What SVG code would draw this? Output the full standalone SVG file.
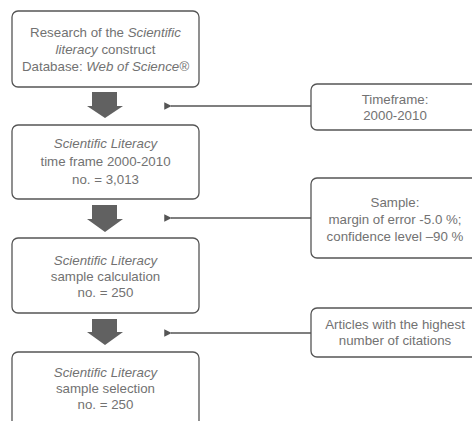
<svg xmlns="http://www.w3.org/2000/svg" width="472" height="421" viewBox="0 0 472 421">
<style>
.box{fill:#fff;stroke:#555;stroke-width:1.3}
.t{font-family:"Liberation Sans",Arial,sans-serif;font-size:13.3px;fill:#727272;text-anchor:middle}
.i{font-style:italic}
.big{fill:#616161}
.con{stroke:#555;stroke-width:1.5;fill:none}
</style>
<defs>
<marker id="ah" viewBox="0 0 10 10" refX="1" refY="5" markerWidth="6" markerHeight="5" orient="auto-start-reverse" markerUnits="strokeWidth">
<path d="M0,5 L10,0 L10,10 Z" fill="#555"/>
</marker>
</defs>
<rect width="472" height="421" fill="#fff"/>
<g id="n1">
<rect class="box" x="12" y="11" width="187" height="76" rx="6"/>
<text class="t" x="105.5" y="37">Research of the <tspan class="i">Scientific</tspan></text>
<text class="t" x="105.5" y="54"><tspan class="i">literacy</tspan> construct</text>
<text class="t" x="105.5" y="71">Database: <tspan class="i">Web of Science®</tspan></text>
</g>
<g id="n2">
<rect class="box" x="12" y="125" width="187" height="74" rx="6"/>
<text class="t i" x="105.5" y="147.5">Scientific Literacy</text>
<text class="t" x="105.5" y="166">time frame 2000-2010</text>
<text class="t" x="105.5" y="184">no. = 3,013</text>
</g>
<g id="n3">
<rect class="box" x="12" y="238" width="187" height="75" rx="6"/>
<text class="t i" x="105.5" y="265">Scientific Literacy</text>
<text class="t" x="105.5" y="281">sample calculation</text>
<text class="t" x="105.5" y="297">no. = 250</text>
</g>
<g id="n4">
<rect class="box" x="12" y="352" width="187" height="90" rx="6"/>
<text class="t i" x="105.5" y="377">Scientific Literacy</text>
<text class="t" x="105.5" y="393">sample selection</text>
<text class="t" x="105.5" y="409">no. = 250</text>
</g>
<g id="r1">
<rect class="box" x="311" y="84" width="170" height="46" rx="6"/>
<text class="t" x="395" y="103.5">Timeframe:</text>
<text class="t" x="395" y="119.5">2000-2010</text>
</g>
<g id="r2">
<rect class="box" x="311" y="178" width="170" height="80" rx="6"/>
<text class="t" x="395" y="207">Sample:</text>
<text class="t" x="395" y="224">margin of error -5.0 %;</text>
<text class="t" x="395" y="240.5">confidence level –90 %</text>
</g>
<g id="r3">
<rect class="box" x="311" y="308" width="170" height="49" rx="6"/>
<text class="t" x="395" y="328.5">Articles with the highest</text>
<text class="t" x="395" y="344.5">number of citations</text>
</g>
<g id="connectors">
<path class="big" d="M92,92 H117 V106 H123 L105,118 L87,106 H92 Z"/>
<path class="big" d="M92,205 H117 V219 H123 L105,232 L87,219 H92 Z"/>
<path class="big" d="M92,319 H117 V332 H123 L105,345 L87,332 H92 Z"/>
<line class="con" x1="171" y1="106" x2="311" y2="106" marker-start="url(#ah)"/>
<line class="con" x1="171" y1="218" x2="311" y2="218" marker-start="url(#ah)"/>
<line class="con" x1="171" y1="333" x2="311" y2="333" marker-start="url(#ah)"/>
</g>
</svg>
